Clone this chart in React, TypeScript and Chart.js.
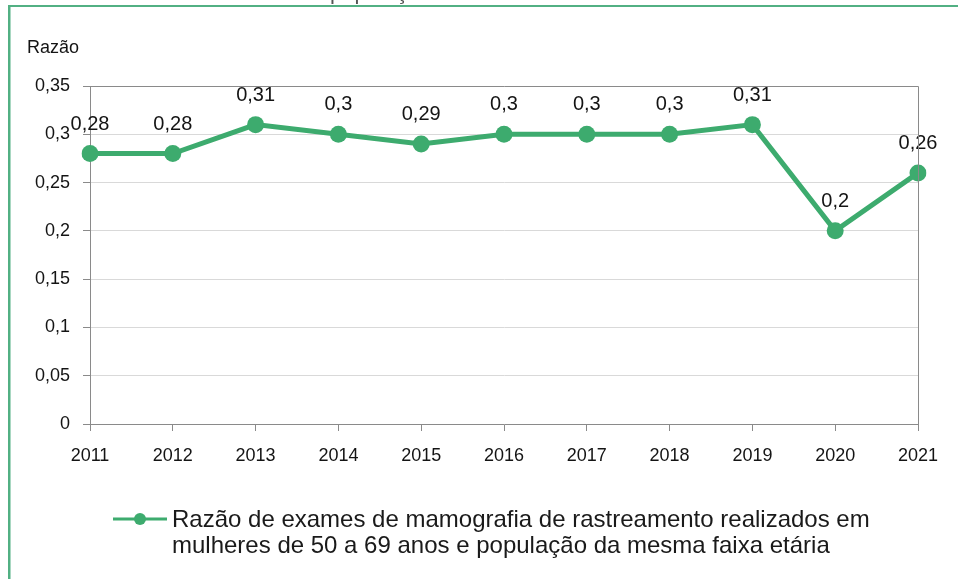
import React, { useEffect, useRef } from "react";
import { Chart, registerables } from "chart.js";

Chart.register(...registerables);

// ---- data ----
const years = ["2011", "2012", "2013", "2014", "2015", "2016", "2017", "2018", "2019", "2020", "2021"];
const ratios = [0.28, 0.28, 0.31, 0.3, 0.29, 0.3, 0.3, 0.3, 0.31, 0.2, 0.26];
const yMin = 0;
const yMax = 0.35;
const yStep = 0.05;
const yTitle = "Razão";
const seriesLabel = [
  "Razão de exames de mamografia de rastreamento realizados em",
  "mulheres de 50 a 69 anos e população da mesma faixa etária",
];
const croppedTitle = "população";

// ---- styles ----
const GREEN = "#3dab6e";
const FRAME = "#52b083";
const AXIS = "#8a8a8a";
const GRID = "#d9d9d9";
const TEXT = "#141414";
const FONT = "'Liberation Sans', Arial, sans-serif";

const fmt = (v: number) => String(Number(v.toFixed(2))).replace(".", ",");

const decorPlugin = {
  id: "decor",
  beforeDraw(chart: any) {
    const { ctx, width, height } = chart;
    ctx.save();
    ctx.fillStyle = "#ffffff";
    ctx.fillRect(0, 0, width, height);
    // cropped title fragment at the very top
    ctx.fillStyle = "#555555";
    ctx.font = `22px ${FONT}`;
    ctx.textBaseline = "alphabetic";
    ctx.fillText(croppedTitle, 330, -1);
    // green frame (top and left edges)
    ctx.fillStyle = FRAME;
    ctx.fillRect(8, 5, width - 8, 2);
    ctx.fillRect(8, 5, 2.5, height - 5);
    ctx.restore();
  },
  afterDatasetsDraw(chart: any) {
    const { ctx } = chart;
    const meta = chart.getDatasetMeta(0);
    ctx.save();
    ctx.fillStyle = TEXT;
    ctx.font = `20px ${FONT}`;
    ctx.textAlign = "center";
    ctx.textBaseline = "alphabetic";
    meta.data.forEach((pt: any, i: number) => {
      ctx.fillText(fmt(ratios[i]), pt.x, pt.y - 24);
    });
    ctx.restore();
  },
  afterDraw(chart: any) {
    const { ctx, chartArea: a } = chart;
    ctx.save();
    // plot frame top and right
    ctx.strokeStyle = AXIS;
    ctx.lineWidth = 1;
    ctx.beginPath();
    ctx.moveTo(Math.round(a.left) + 0.5, Math.round(a.top) + 0.5);
    ctx.lineTo(Math.round(a.right) + 0.5, Math.round(a.top) + 0.5);
    ctx.lineTo(Math.round(a.right) + 0.5, Math.round(a.bottom) + 0.5);
    ctx.stroke();
    // y title
    ctx.fillStyle = TEXT;
    ctx.font = `18px ${FONT}`;
    ctx.textAlign = "left";
    ctx.textBaseline = "alphabetic";
    ctx.fillText(yTitle, 27, 53);
    // legend
    ctx.strokeStyle = GREEN;
    ctx.lineWidth = 3;
    ctx.beginPath();
    ctx.moveTo(113, 519);
    ctx.lineTo(167, 519);
    ctx.stroke();
    ctx.fillStyle = GREEN;
    ctx.beginPath();
    ctx.arc(140, 519, 6, 0, Math.PI * 2);
    ctx.fill();
    ctx.fillStyle = "#1a1a1a";
    ctx.font = `24px ${FONT}`;
    seriesLabel.forEach((line, i) => {
      ctx.fillText(line, 172, 527 + i * 26);
    });
    ctx.restore();
  },
};

export default function App() {
  const canvasRef = useRef<HTMLCanvasElement | null>(null);

  useEffect(() => {
    const canvas = canvasRef.current;
    if (!canvas) return;
    const chart = new Chart(canvas, {
      type: "line",
      data: {
        labels: years,
        datasets: [
          {
            label: seriesLabel.join(" "),
            data: ratios,
            borderColor: GREEN,
            backgroundColor: GREEN,
            borderWidth: 5,
            pointRadius: 8.5,
            pointBorderWidth: 0,
            pointBackgroundColor: GREEN,
            tension: 0,
          },
        ],
      },
      options: {
        responsive: false,
        animation: false,
        events: [],
        layout: { padding: { top: 86, right: 40, left: 0, bottom: 0 } },
        plugins: {
          legend: { display: false },
          tooltip: { enabled: false },
          title: { display: false },
        },
        scales: {
          x: {
            type: "category",
            offset: false,
            afterFit: (s: any) => {
              s.height = 155;
            },
            grid: {
              drawOnChartArea: false,
              drawTicks: true,
              tickLength: 7,
              tickColor: AXIS,
            },
            border: { color: AXIS, width: 1 },
            ticks: {
              color: TEXT,
              font: { family: FONT, size: 18 },
              padding: 14,
              maxRotation: 0,
              autoSkip: false,
            },
          },
          y: {
            min: yMin,
            max: yMax,
            afterFit: (s: any) => {
              s.width = 90;
            },
            grid: {
              color: GRID,
              tickLength: 7,
              tickColor: AXIS,
            },
            border: { color: AXIS, width: 1 },
            ticks: {
              stepSize: yStep,
              color: TEXT,
              font: { family: FONT, size: 18 },
              padding: 13,
              callback: (v: any) => fmt(Number(v)),
            },
          },
        },
      },
      plugins: [decorPlugin],
    });
    return () => chart.destroy();
  }, []);

  return (
    <div style={{ position: "fixed", left: 0, top: 0, width: 958, height: 579, background: "#fff" }}>
      <canvas ref={canvasRef} width={958} height={579} style={{ display: "block", width: 958, height: 579 }} />
    </div>
  );
}
